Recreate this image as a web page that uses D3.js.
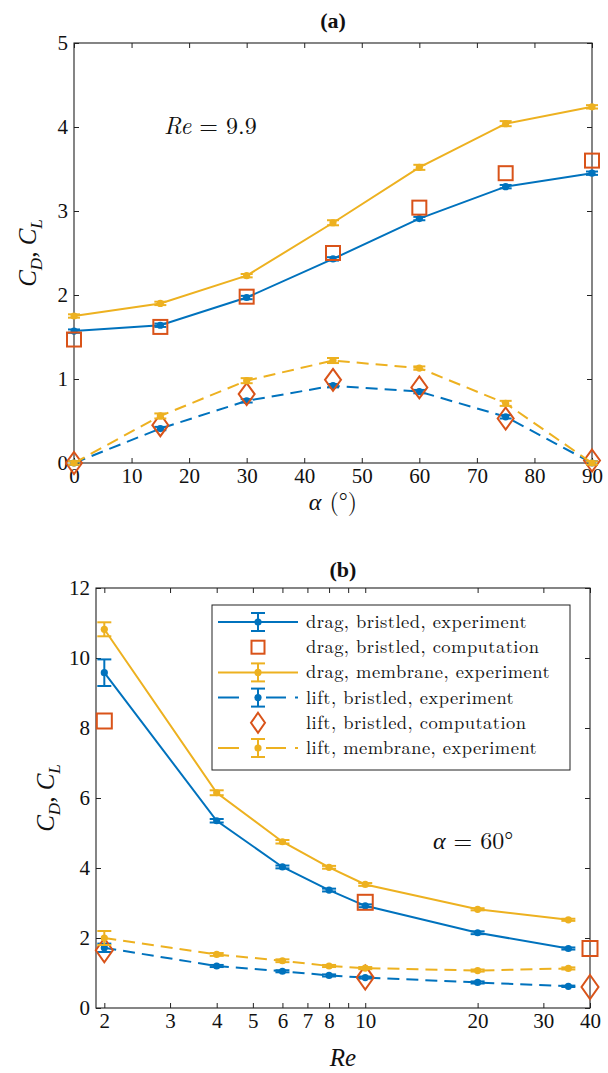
<!DOCTYPE html>
<html><head><meta charset="utf-8">
<script src="https://cdn.jsdelivr.net/npm/d3@7"></script>
<style>body{margin:0;background:#fff}</style></head>
<body><svg id="c" width="608" height="1073"></svg>
<script>
// ---------- data: panel (a) ----------
const alphaDeg = [0, 15, 30, 45, 60, 75, 90];
const dragBristledA = [1.57, 1.64, 1.97, 2.43, 2.91, 3.29, 3.45];
const dragBristledAErr = [0.02, 0.02, 0.02, 0.02, 0.02, 0.02, 0.02];
const dragCompA = [1.47, 1.62, 1.98, 2.50, 3.04, 3.45, 3.60];
const dragMembraneA = [1.75, 1.90, 2.23, 2.86, 3.52, 4.04, 4.24];
const dragMembraneAErr = [0.02, 0.02, 0.02, 0.03, 0.03, 0.03, 0.02];
const liftBristledA = [0.0, 0.41, 0.74, 0.92, 0.85, 0.55, 0.0];
const liftBristledAErr = [0.02, 0.02, 0.02, 0.02, 0.02, 0.02, 0.02];
const liftCompA = [0.0, 0.45, 0.82, 0.99, 0.90, 0.53, 0.03];
const liftMembraneA = [0.0, 0.56, 0.98, 1.22, 1.13, 0.71, 0.0];
const liftMembraneAErr = [0.02, 0.03, 0.03, 0.03, 0.02, 0.03, 0.02];
const xTicksA = [0, 10, 20, 30, 40, 50, 60, 70, 80, 90];
const yTicksA = [0, 1, 2, 3, 4, 5];

// ---------- data: panel (b) ----------
const reExp = [2, 4, 6, 8, 10, 20, 35];
const reComp = [2, 10, 40];
const dragBristledB = [9.58, 5.35, 4.03, 3.37, 2.92, 2.15, 1.70];
const dragBristledBErr = [0.38, 0.05, 0.04, 0.04, 0.04, 0.04, 0.03];
const dragCompB = [8.20, 3.02, 1.70];
const dragMembraneB = [10.82, 6.15, 4.75, 4.02, 3.53, 2.82, 2.52];
const dragMembraneBErr = [0.20, 0.07, 0.05, 0.04, 0.04, 0.03, 0.03];
const liftBristledB = [1.72, 1.20, 1.05, 0.93, 0.87, 0.73, 0.62];
const liftBristledBErr = [0.12, 0.03, 0.03, 0.03, 0.03, 0.03, 0.02];
const liftCompB = [1.65, 0.87, 0.60];
const liftMembraneB = [2.00, 1.53, 1.35, 1.20, 1.14, 1.07, 1.13];
const liftMembraneBErr = [0.20, 0.04, 0.04, 0.03, 0.03, 0.03, 0.03];
const xTicksB = [2, 3, 4, 5, 6, 7, 8, 9, 10, 20, 30, 40];
const xTickLabelsB = ["2", "3", "4", "5", "6", "7", "8", "", "10", "20", "30", "40"];
const yTicksB = [0, 2, 4, 6, 8, 10, 12];

const legendLabels = ["drag, bristled, experiment", "drag, bristled, computation",
  "drag, membrane, experiment", "lift, bristled, experiment",
  "lift, bristled, computation", "lift, membrane, experiment"];

const BLUE = "#0072BD", ORANGE = "#D95319", YEL = "#EDB120";
const DASH = "12,7";
const TIMES = '"Liberation Serif", "FreeSerif", "Noto Serif CJK SC", "DejaVu Serif"';
const CM = '"Latin Modern Roman", "Liberation Serif", "FreeSerif"';

const svg = d3.select("#c");
svg.append("rect").attr("width", 608).attr("height", 1073).attr("fill", "#fff");

function seriesSet(xe, xc, d) {
  return [
    {type: "exp", x: xe, y: d[0], err: d[1], color: BLUE, dash: null},
    {type: "sq", x: xc, y: d[2], color: ORANGE},
    {type: "exp", x: xe, y: d[3], err: d[4], color: YEL, dash: null},
    {type: "exp", x: xe, y: d[5], err: d[6], color: BLUE, dash: DASH},
    {type: "dia", x: xc, y: d[7], color: ORANGE},
    {type: "exp", x: xe, y: d[8], err: d[9], color: YEL, dash: DASH}
  ];
}

function drawSeries(g, x, y, list, capW, sqS, diaW, diaH) {
  list.forEach(s => {
    const pts = s.x.map((v, i) => [v, s.y[i]]);
    if (s.type === "exp") {
      g.append("path").attr("d", d3.line().x(d => x(d[0])).y(d => y(d[1]))(pts))
        .attr("fill", "none").attr("stroke", s.color).attr("stroke-width", 2)
        .attr("stroke-dasharray", s.dash);
      s.x.forEach((v, i) => {
        const cx = x(v), y1 = y(s.y[i] - s.err[i]), y2 = y(s.y[i] + s.err[i]);
        const eb = g.append("g").attr("stroke", s.color).attr("stroke-width", 2);
        eb.append("line").attr("x1", cx).attr("x2", cx).attr("y1", y1).attr("y2", y2);
        eb.append("line").attr("x1", cx - capW / 2).attr("x2", cx + capW / 2).attr("y1", y1).attr("y2", y1);
        eb.append("line").attr("x1", cx - capW / 2).attr("x2", cx + capW / 2).attr("y1", y2).attr("y2", y2);
        g.append("circle").attr("cx", cx).attr("cy", y(s.y[i])).attr("r", 3.6).attr("fill", s.color);
      });
    } else if (s.type === "sq") {
      s.x.forEach((v, i) => {
        g.append("rect").attr("x", x(v) - sqS / 2).attr("y", y(s.y[i]) - sqS / 2)
          .attr("width", sqS).attr("height", sqS).attr("fill", "none")
          .attr("stroke", s.color).attr("stroke-width", 2);
      });
    } else {
      s.x.forEach((v, i) => {
        const cx = x(v), cy = y(s.y[i]);
        g.append("path").attr("d", `M${cx},${cy - diaH / 2}L${cx + diaW / 2},${cy}L${cx},${cy + diaH / 2}L${cx - diaW / 2},${cy}Z`)
          .attr("fill", "none").attr("stroke", s.color).attr("stroke-width", 2);
      });
    }
  });
}

function drawFrame(g, x, y, L, R, T, B, xTicks, xFmt, yTicks) {
  const ax = g.append("g").attr("transform", `translate(0,${B})`)
    .call(d3.axisBottom(x).tickValues(xTicks).tickFormat(xFmt).tickSize(-5).tickPadding(5));
  const at = g.append("g").attr("transform", `translate(0,${T})`)
    .call(d3.axisTop(x).tickValues(xTicks).tickFormat("").tickSize(-5));
  const ay = g.append("g").attr("transform", `translate(${L},0)`)
    .call(d3.axisLeft(y).tickValues(yTicks).tickFormat(d3.format("d")).tickSize(-5).tickPadding(6));
  const ar = g.append("g").attr("transform", `translate(${R},0)`)
    .call(d3.axisRight(y).tickValues(yTicks).tickFormat("").tickSize(-5));
  [ax, at, ay, ar].forEach(a => {
    a.attr("font-family", TIMES);
    a.select(".domain").remove();
    a.selectAll("line").attr("stroke", "#222").attr("stroke-width", 1);
    a.selectAll("text").attr("font-size", 21).attr("fill", "#111").attr("class", "tm");
  });
  g.append("rect").attr("x", L).attr("y", T).attr("width", R - L).attr("height", B - T)
    .attr("fill", "none").attr("stroke", "#222").attr("stroke-width", 1.1);
}

function ylabel(g, cx, cy) {
  const t = g.append("text").attr("class", "tm").attr("transform", `translate(${cx},${cy}) rotate(-90)`)
    .attr("text-anchor", "middle").attr("font-size", 25).attr("font-style", "italic");
  t.append("tspan").text("C");
  t.append("tspan").attr("font-size", 17).attr("dy", 6).text("D");
  t.append("tspan").attr("dy", -6).attr("font-style", "normal").text(", ");
  t.append("tspan").text("C");
  t.append("tspan").attr("font-size", 17).attr("dy", 6).text("L");
}

// ---------------- panel (a) ----------------
{
  const L = 74, R = 592, T = 43, B = 463;
  const x = d3.scaleLinear().domain([0, 90]).range([L, R]);
  const y = d3.scaleLinear().domain([0, 5]).range([B, T]);
  const g = svg.append("g");
  drawFrame(g, x, y, L, R, T, B, xTicksA, d3.format("d"), yTicksA);
  drawSeries(g, x, y, seriesSet(alphaDeg, alphaDeg,
    [dragBristledA, dragBristledAErr, dragCompA, dragMembraneA, dragMembraneAErr,
     liftBristledA, liftBristledAErr, liftCompA, liftMembraneA, liftMembraneAErr]), 12, 14, 16, 22);
  g.append("text").attr("class", "tm").attr("x", (L + R) / 2).attr("y", 28).attr("text-anchor", "middle")
    .attr("font-size", 22).attr("font-weight", "bold").text("(a)");
  const an = g.append("text").attr("class", "cm").attr("x", 164).attr("y", 134).attr("font-size", 24);
  an.append("tspan").attr("font-style", "italic").text("Re");
  an.append("tspan").text(" = 9.9");
  const xl = g.append("text").attr("class", "cm").attr("x", (L + R) / 2).attr("y", 510).attr("text-anchor", "middle").attr("font-size", 24);
  xl.append("tspan").attr("font-style", "italic").text("α");
  xl.append("tspan").text(" (°)");
  ylabel(g, 36, 253);
}

// ---------------- panel (b) ----------------
{
  const L = 96, R = 590, T = 588, B = 1008;
  const x = d3.scaleLog().domain([1.9, 40]).range([L, R]);
  const y = d3.scaleLinear().domain([0, 12]).range([B, T]);
  const g = svg.append("g");
  drawFrame(g, x, y, L, R, T, B, xTicksB, (d, i) => xTickLabelsB[i], yTicksB);
  drawSeries(g, x, y, seriesSet(reExp, reComp,
    [dragBristledB, dragBristledBErr, dragCompB, dragMembraneB, dragMembraneBErr,
     liftBristledB, liftBristledBErr, liftCompB, liftMembraneB, liftMembraneBErr]), 14, 15, 17, 24);
  g.append("text").attr("class", "tm").attr("x", (L + R) / 2).attr("y", 577).attr("text-anchor", "middle")
    .attr("font-size", 22).attr("font-weight", "bold").text("(b)");
  const an = g.append("text").attr("class", "cm").attr("x", 433).attr("y", 849).attr("font-size", 24);
  an.append("tspan").attr("font-style", "italic").text("α");
  an.append("tspan").text(" = 60°");
  g.append("text").attr("class", "tm").attr("x", (L + R) / 2).attr("y", 1066).attr("text-anchor", "middle")
    .attr("font-size", 25).attr("font-style", "italic").text("Re");
  ylabel(g, 54, 798);

  // legend
  const lg = g.append("g");
  const lx = 212, ly = 605, lw = 358, rowH = 25.2;
  lg.append("rect").attr("x", lx).attr("y", ly).attr("width", lw).attr("height", 165)
    .attr("fill", "#fff").attr("stroke", "#222").attr("stroke-width", 1);
  const specs = [
    {type: "exp", color: BLUE, dash: null}, {type: "sq", color: ORANGE},
    {type: "exp", color: YEL, dash: null}, {type: "exp", color: BLUE, dash: DASH},
    {type: "dia", color: ORANGE}, {type: "exp", color: YEL, dash: DASH}];
  specs.forEach((s, i) => {
    const cy = ly + 17 + i * rowH, mx = 258;
    if (s.type === "exp") {
      lg.append("line").attr("x1", 218).attr("x2", 298).attr("y1", cy).attr("y2", cy)
        .attr("stroke", s.color).attr("stroke-width", 2).attr("stroke-dasharray", s.dash ? "21,27,20,9" : null);
      const eb = lg.append("g").attr("stroke", s.color).attr("stroke-width", 2);
      eb.append("line").attr("x1", mx).attr("x2", mx).attr("y1", cy - 9).attr("y2", cy + 9);
      eb.append("line").attr("x1", mx - 7).attr("x2", mx + 7).attr("y1", cy - 9).attr("y2", cy - 9);
      eb.append("line").attr("x1", mx - 7).attr("x2", mx + 7).attr("y1", cy + 9).attr("y2", cy + 9);
      lg.append("circle").attr("cx", mx).attr("cy", cy).attr("r", 3.6).attr("fill", s.color);
    } else if (s.type === "sq") {
      lg.append("rect").attr("x", mx - 6.5).attr("y", cy - 6.5).attr("width", 13).attr("height", 13)
        .attr("fill", "none").attr("stroke", s.color).attr("stroke-width", 2);
    } else {
      lg.append("path").attr("d", `M${mx},${cy - 10}L${mx + 7},${cy}L${mx},${cy + 10}L${mx - 7},${cy}Z`)
        .attr("fill", "none").attr("stroke", s.color).attr("stroke-width", 2);
    }
    lg.append("text").attr("class", "cm").attr("x", 306).attr("y", cy + 6).attr("font-size", 18.5)
      .attr("letter-spacing", 0.45).text(legendLabels[i]);
  });
}

// fonts applied as attributes and inline styles (override axis defaults)
svg.selectAll("text.tm").attr("font-family", TIMES).style("font-family", TIMES).style("fill", "#111");
svg.selectAll("text.cm").attr("font-family", CM).style("font-family", CM).style("fill", "#111");
</script></body></html>
